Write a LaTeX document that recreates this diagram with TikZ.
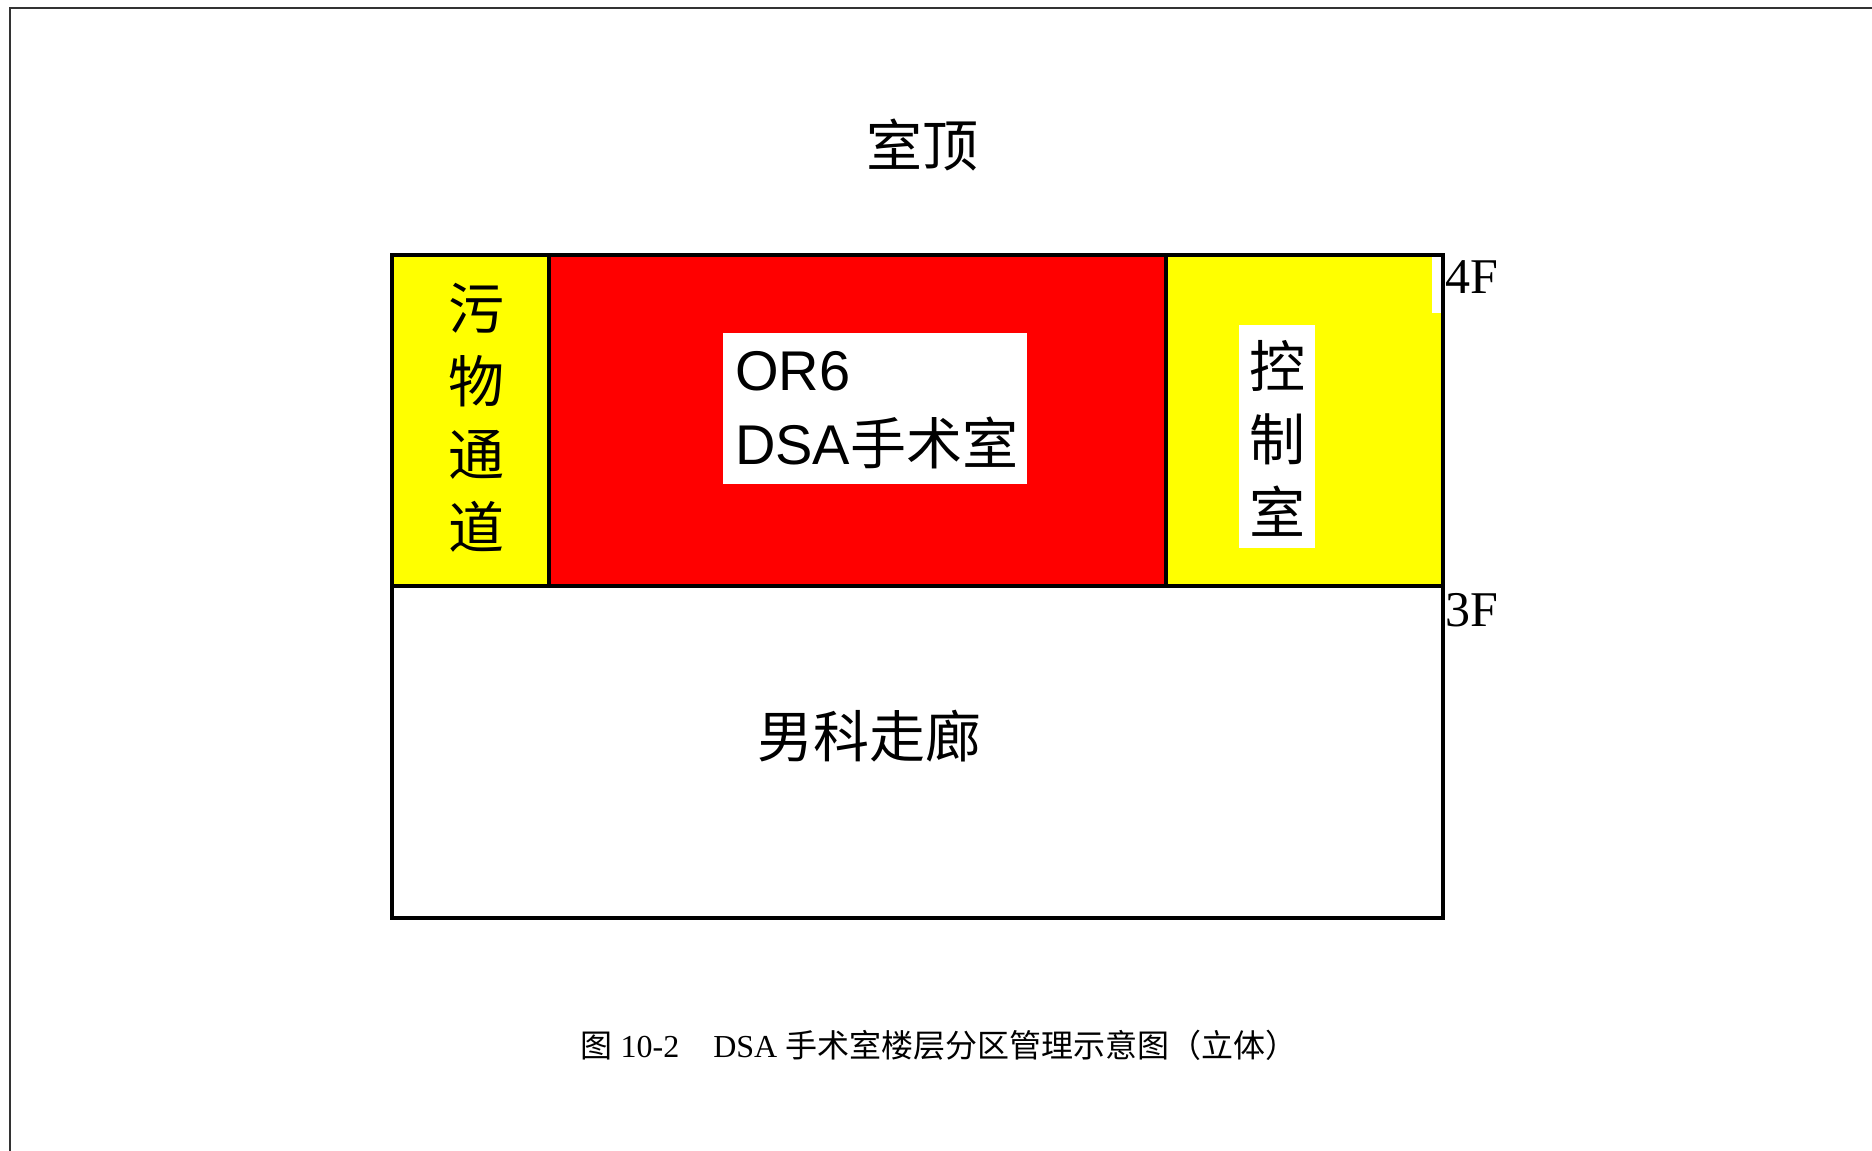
\documentclass[tikz,border=0pt]{standalone}
\usepackage{fontspec}
\setmainfont{Liberation Serif}
\newfontfamily\cjk{Noto Sans CJK SC}
\newfontfamily\arial{Liberation Sans}
\definecolor{framegray}{HTML}{333333}
\definecolor{zyellow}{HTML}{FFFF00}
\definecolor{zred}{HTML}{FF0000}
\tikzset{
  big/.style={inner sep=0pt, font=\cjk\fontsize{56}{73}\selectfont},
  vert/.style={inner sep=0pt, align=center, font=\cjk\fontsize{56}{73}\selectfont},
  floorlbl/.style={inner sep=0pt, anchor=north west, font=\fontsize{50}{50}\selectfont},
  wall/.style={line width=3.2pt, black},
}
\begin{document}
\begin{tikzpicture}[x=1pt,y=-1pt]
\useasboundingbox (0,0) rectangle (1872,1151);
\fill[white] (0,0) rectangle (1872,1151);
\draw[line width=2.5pt, framegray] (10,1160) -- (10,8) -- (1880,8);
% zones
\fill[zyellow] (392,255) rectangle (549,586);
\fill[zred] (549,255) rectangle (1166,586);
\fill[zyellow] (1166,255) rectangle (1443,586);
\fill[white] (1432,257) rectangle (1441,313);
\fill[white] (723,333) rectangle (1027,484);
\fill[white] (1239,325) rectangle (1315,548);
\draw[wall] (549,255) -- (549,586);
\draw[wall] (1166,255) -- (1166,586);
\draw[wall] (392,586) -- (1443,586);
\draw[wall] (392,255) rectangle (1443,918);
% labels
\node[big] (roof) at (922,145) {室顶};
\node[vert] (dirty) at (476,418) {污\\物\\通\\道};
\node[vert] (ctrl) at (1277,438) {控\\制\\室};
\node[inner sep=0pt, anchor=base west, font=\arial\fontsize{56}{56}\selectfont] (or6) at (735,390) {OR6};
\node[inner sep=0pt, anchor=base west, font=\arial\fontsize{56}{56}\selectfont] (dsa) at (735,464) {DSA{\cjk 手术室}};
\node[big] (corr) at (869,736) {男科走廊};
\node[floorlbl] (f4) at (1445,260) {4F};
\node[floorlbl] (f3) at (1445,593) {3F};
\node[inner sep=0pt, font=\fontsize{32}{32}\selectfont] (cap) at (939,1045) {{\cjk 图} 10-2\hspace{34pt}DSA {\cjk 手术室楼层分区管理示意图（立体）}};
\end{tikzpicture}
\end{document}
